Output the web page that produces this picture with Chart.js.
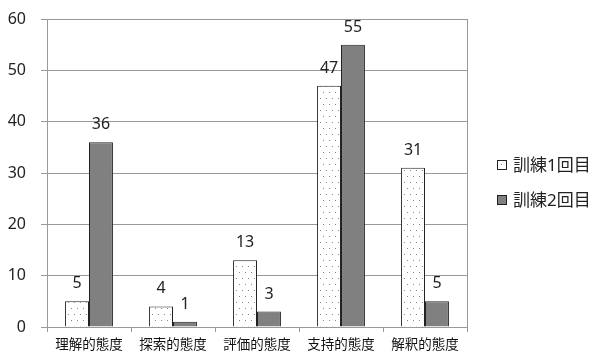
<!DOCTYPE html>
<html>
<head>
<meta charset="utf-8">
<script src="https://cdn.jsdelivr.net/npm/chart.js@4"></script>
<style>
  html, body { margin: 0; padding: 0; background: #fff; }
  #wrap { position: relative; width: 595px; height: 353px; }
  #legend { position: absolute; left: 497px; top: 153px; font-family: 'Noto Sans', 'Noto Sans CJK JP', sans-serif; font-size: 17px; color: #222; }
  #legend div { height: 35px; line-height: 24px; white-space: nowrap; }
  #legend span.box { display: inline-block; width: 8px; height: 8px; border: 1px solid #222; margin-right: 6px; vertical-align: 1px; position: relative; }
  #legend span.b1 { background: #fff; }
  #legend span.b1::after { content: ''; position: absolute; left: 3px; top: 3px; width: 1px; height: 1px; background: #777; }
  #legend span.b2 { background: #808080; }
</style>
</head>
<body>
<div id="wrap">
  <canvas id="barChart" width="595" height="353"></canvas>
  <div id="legend">
    <div><span class="box b1"></span>訓練1回目</div>
    <div><span class="box b2"></span>訓練2回目</div>
  </div>
</div>
<script>
var categories = ['理解的態度', '探索的態度', '評価的態度', '支持的態度', '解釈的態度'];
var seriesNames = ['訓練1回目', '訓練2回目'];
var round1 = [5, 4, 13, 47, 31];
var round2 = [36, 1, 3, 55, 5];
var yTicks = [0, 10, 20, 30, 40, 50, 60];

var fontFamily = "'Noto Sans', 'Noto Sans CJK JP', sans-serif";

// white fill with staggered gray dots
function dotPattern() {
    var c = document.createElement('canvas');
    c.width = 12;
    c.height = 12;
    var g = c.getContext('2d');
    g.fillStyle = '#fff';
    g.fillRect(0, 0, 12, 12);
    g.fillStyle = '#888';
    g.fillRect(2, 2, 1, 1);
    g.fillRect(8, 2, 1, 1);
    g.fillRect(5, 8, 1, 1);
    g.fillRect(11, 8, 1, 1);
    return g.createPattern(c, 'repeat');
}

// values above each bar + right frame line
var extras = {
    id: 'extras',
    afterDatasetsDraw: function (chart) {
        var ctx = chart.ctx;
        var area = chart.chartArea;
        ctx.save();
        ctx.strokeStyle = '#999';
        ctx.lineWidth = 1;
        ctx.beginPath();
        ctx.moveTo(Math.round(area.right) + 0.5, area.top);
        ctx.lineTo(Math.round(area.right) + 0.5, area.bottom);
        ctx.stroke();

        ctx.fillStyle = '#222';
        ctx.font = '16px ' + fontFamily;
        ctx.textAlign = 'center';
        ctx.textBaseline = 'alphabetic';
        chart.data.datasets.forEach(function (ds, i) {
            var meta = chart.getDatasetMeta(i);
            meta.data.forEach(function (bar, j) {
                ctx.fillText(String(ds.data[j]), bar.x, bar.y - 13);
            });
        });
        ctx.restore();
    }
};

var barChartData = {
    labels: categories,
    datasets: [
        {
            label: seriesNames[0],
            data: round1,
            backgroundColor: dotPattern(),
            borderColor: '#222',
            borderWidth: 1
        },
        {
            label: seriesNames[1],
            data: round2,
            backgroundColor: '#808080',
            borderColor: '#222',
            borderWidth: 1
        }
    ]
};

var barChartOptions = {
    responsive: false,
    animation: false,
    layout: { padding: { top: 19, right: 128, left: 0, bottom: 0 } },
    plugins: {
        legend: { display: false },
        tooltip: { enabled: false }
    },
    datasets: {
        bar: { categoryPercentage: 0.57, barPercentage: 1.0 }
    },
    scales: {
        x: {
            grid: { display: true, drawOnChartArea: false, drawTicks: true, tickLength: 5, color: '#999', offset: true },
            border: { color: '#999' },
            ticks: { color: '#111', padding: 5, font: { family: fontFamily, size: 13.5 }, maxRotation: 0, autoSkip: false },
            afterFit: function (scale) { scale.height = 26; }
        },
        y: {
            min: 0,
            max: 60,
            afterBuildTicks: function (scale) {
                scale.ticks = yTicks.map(function (v) { return { value: v }; });
            },
            grid: { color: '#999', drawTicks: true, tickLength: 6 },
            border: { color: '#999' },
            ticks: { color: '#222', padding: 15, font: { family: fontFamily, size: 16 } },
            afterFit: function (scale) {
                scale.width = 47;
                scale.paddingTop = 0;
                scale.paddingBottom = 0;
            }
        }
    }
};

var barChartCanvas = document.getElementById('barChart').getContext('2d');
var barChart = new Chart(barChartCanvas, {
    type: 'bar',
    data: barChartData,
    options: barChartOptions,
    plugins: [extras]
});
</script>
</body>
</html>
